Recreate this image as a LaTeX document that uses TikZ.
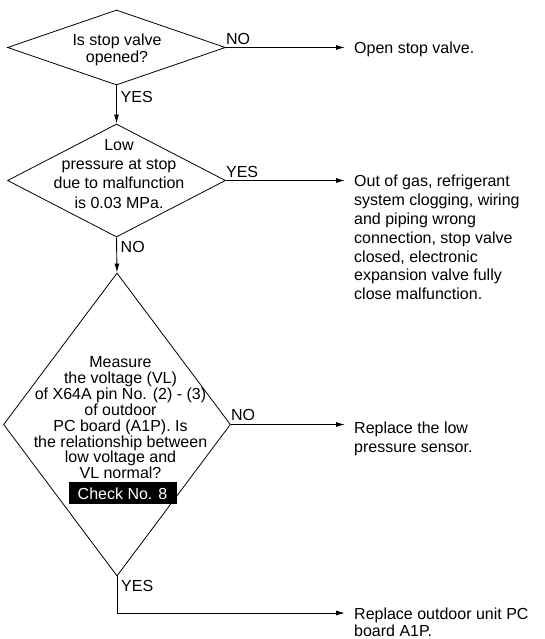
\documentclass[tikz,border=0pt]{standalone}
\usepackage{fontspec}
\setmainfont{Liberation Sans}
\usetikzlibrary{shapes.geometric,arrows.meta}
\begin{document}
\begin{tikzpicture}[x=1pt,y=-1pt,
  every node/.style={inner sep=0pt,font=\fontsize{16}{17}\selectfont},
  decision/.style={draw,line width=0.8pt,shape=diamond,inner sep=0pt},
  qtext/.style={align=center,anchor=north},
  result/.style={align=left,anchor=north west},
  lbl/.style={anchor=base west},
  arr/.style={line width=0.9pt,-{Latex[length=9pt,width=5pt]}},
  plain/.style={line width=0.9pt}]
\useasboundingbox (0,0) rectangle (544,639);

% decisions
\node[decision,minimum width=218pt,minimum height=75pt] (d1) at (116.5,47.5) {};
\node[qtext,font=\fontsize{16}{17}\selectfont] (t1) at (117,34.2) {Is stop valve\\opened?};

\node[decision,minimum width=218pt,minimum height=113pt] (d2) at (116.5,180.5) {};
\node[qtext,font=\fontsize{16}{19.2}\selectfont] (t2) at (119,139.2)
  {Low\\pressure at stop\\due to malfunction\\is 0.03 MPa.};

\node[decision,minimum width=227pt,minimum height=303pt] (d3) at (117,424.5) {};
\node[qtext,font=\fontsize{16}{15.86}\selectfont] (t3) at (120.5,356.5)
  {Measure\\the voltage (VL)\\of X64A pin No. (2) - (3)\\of outdoor\\PC board (A1P). Is\\the relationship between\\low voltage and\\VL normal?};
\node[fill=black,text=white,minimum width=108pt,minimum height=22pt] (chk) at (122.5,493.3) {Check No. 8};

% outcomes
\node[result] (r1) at (354,42.2) {Open stop valve.};
\node[result,font=\fontsize{16}{18.8}\selectfont] (r2) at (354,175.2)
  {Out of gas, refrigerant\\system clogging, wiring\\and piping wrong\\connection, stop valve\\closed, electronic\\expansion valve fully\\close malfunction.};
\node[result,font=\fontsize{16}{19}\selectfont] (r3) at (354,422.2)
  {Replace the low\\pressure sensor.};
\node[result,font=\fontsize{16}{17}\selectfont] (r4) at (354,607.2)
  {Replace outdoor unit PC\\board A1P.};

% connectors
\draw[arr,shorten >=9pt] (d1.east) -- (d1.east -| r1.west);
\draw[arr] (d1.south) -- (d2.north);
\draw[arr,shorten >=9pt] (d2.east) -- (d2.east -| r2.west);
\draw[arr] (d2.south) -- (d3.north);
\draw[arr,shorten >=9pt] (d3.east) -- (d3.east -| r3.west);
\coordinate (c4) at (117,613);
\draw[plain] (d3.south) -- (c4);
\draw[arr,shorten >=9pt] (c4) -- (c4 -| r4.west);

% branch labels
\node[lbl] (n1) at ([yshift=3pt]d1.east) {NO};
\node[lbl] (y1) at ([xshift=4pt,yshift=-16.7pt]d1.south) {YES};
\node[lbl] (y2) at ([yshift=3.3pt]d2.east) {YES};
\node[lbl] (n2) at ([xshift=4pt,yshift=-15.5pt]d2.south) {NO};
\node[lbl] (n3) at ([yshift=4pt]d3.east) {NO};
\node[lbl] (y3) at ([xshift=4pt,yshift=-15.5pt]d3.south) {YES};
\end{tikzpicture}
\end{document}
